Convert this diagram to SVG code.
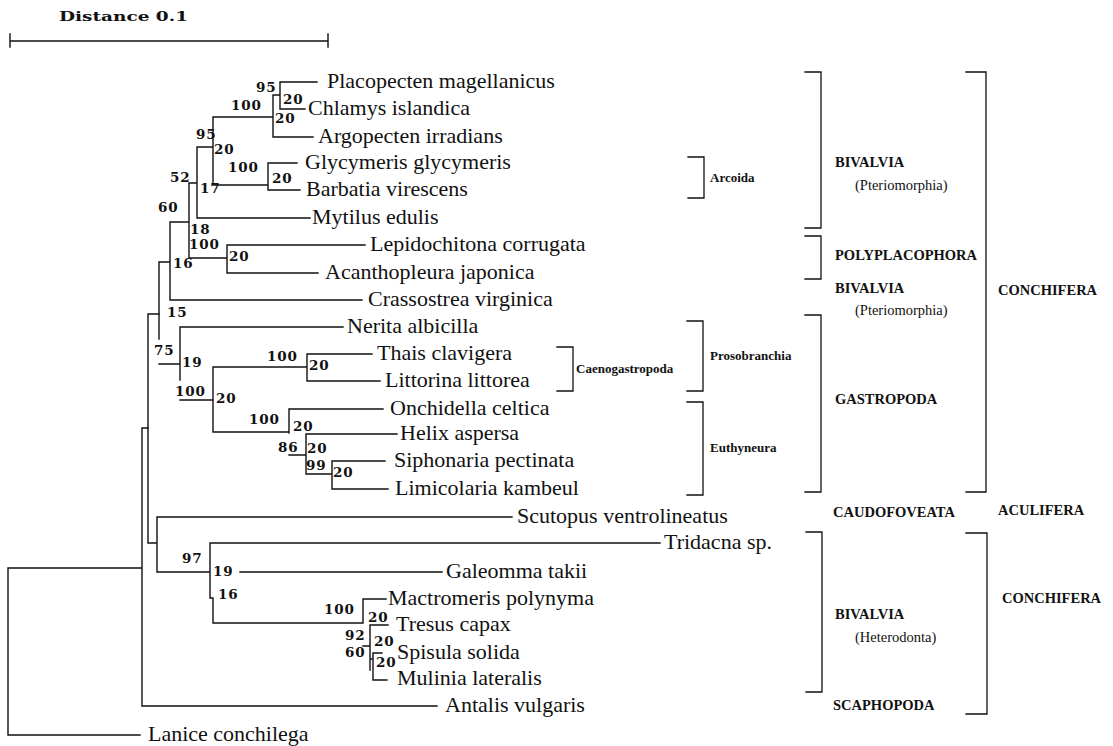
<svg xmlns="http://www.w3.org/2000/svg" width="1113" height="746" viewBox="0 0 1113 746">
<style>
.ln{stroke:#111;stroke-width:1.4;fill:none;stroke-linecap:square}
.br{stroke:#111;stroke-width:1.3;fill:none;stroke-linecap:square}
.sp{font-family:"Liberation Serif","Times New Roman",serif;font-size:22px;fill:#111}
.bs{font-family:"DejaVu Serif",serif;font-weight:bold;font-size:13.5px;letter-spacing:0.8px;fill:#111}
.gp{font-family:"Liberation Serif","Times New Roman",serif;font-weight:bold;font-size:14.5px;fill:#111}
.sub{font-family:"Liberation Serif","Times New Roman",serif;font-size:14.5px;fill:#111}
.cl{font-family:"Liberation Serif","Times New Roman",serif;font-weight:bold;font-size:13px;fill:#111}
</style>
<rect width="1113" height="746" fill="#fff"/>
<g id="scale">
<text x="59" y="21" font-family="DejaVu Serif,serif" font-weight="bold" font-size="13.5" fill="#111" textLength="129" lengthAdjust="spacingAndGlyphs">Distance 0.1</text>
<path class="ln" d="M10 41H328M10 34V47M328 34V47"/>
</g>
<g id="connectors">
<path class="ln" d="M280 82V109M280 82H317M280 109H305M273 95H280M273 95V137M273 137H313M213 117H273M213 117V185M213 185H268M268 163V190M268 163H297M268 190H300M197 147H213M197 147V218M197 218H310M189 183H197M189 183V258M189 258H227M227 245V273M227 245H365M227 273H318M170 222H189M170 222V300M170 300H362M159 262H170M159 262V339"/>
<path class="ln" d="M159 364H180M180 327V380M180 327H343M180 400H213M213 367V432M213 367H307M307 354V381M307 354H372M307 381H380M213 432H289M289 409V433M289 409H383M289 455H306M306 434V474M306 434H397M306 474H332M332 461V489M332 461H385M332 489H388"/>
<path class="ln" d="M148 314H159M148 314V543M148 543H157M157 517V572M157 517H512M157 572H210M210 543V598M210 543H660M240 572H442M210 598H213M213 598V623M213 623H363M363 599V623M363 599H386M363 646H370M370 625V670M370 625H388M370 659H373M373 653V680M373 653H382M373 680H387"/>
<path class="ln" d="M143 428H148M142 428V706M142 706H437M8 568H142M8 568V735M8 735H140"/>
</g>
<g id="leaf-placopecten"><text class="sp" x="327" y="88">Placopecten magellanicus</text></g>
<g id="leaf-chlamys"><text class="sp" x="308" y="115">Chlamys islandica</text></g>
<g id="leaf-argopecten"><text class="sp" x="318" y="143">Argopecten irradians</text></g>
<g id="leaf-glycymeris"><text class="sp" x="305" y="169">Glycymeris glycymeris</text></g>
<g id="leaf-barbatia"><text class="sp" x="306" y="196">Barbatia virescens</text></g>
<g id="leaf-mytilus"><text class="sp" x="312" y="224">Mytilus edulis</text></g>
<g id="leaf-lepidochitona"><text class="sp" x="370" y="251">Lepidochitona corrugata</text></g>
<g id="leaf-acanthopleura"><text class="sp" x="325" y="279">Acanthopleura japonica</text></g>
<g id="leaf-crassostrea"><text class="sp" x="368" y="306">Crassostrea virginica</text></g>
<g id="leaf-nerita"><text class="sp" x="347" y="333">Nerita albicilla</text></g>
<g id="leaf-thais"><text class="sp" x="377" y="360">Thais clavigera</text></g>
<g id="leaf-littorina"><text class="sp" x="385" y="387">Littorina littorea</text></g>
<g id="leaf-onchidella"><text class="sp" x="390" y="415">Onchidella celtica</text></g>
<g id="leaf-helix"><text class="sp" x="400" y="440">Helix aspersa</text></g>
<g id="leaf-siphonaria"><text class="sp" x="394" y="467">Siphonaria pectinata</text></g>
<g id="leaf-limicolaria"><text class="sp" x="395" y="495">Limicolaria kambeul</text></g>
<g id="leaf-scutopus"><text class="sp" x="517" y="523">Scutopus ventrolineatus</text></g>
<g id="leaf-tridacna"><text class="sp" x="664" y="549">Tridacna sp.</text></g>
<g id="leaf-galeomma"><text class="sp" x="446" y="578">Galeomma takii</text></g>
<g id="leaf-mactromeris"><text class="sp" x="388" y="605">Mactromeris polynyma</text></g>
<g id="leaf-tresus"><text class="sp" x="396" y="631">Tresus capax</text></g>
<g id="leaf-spisula"><text class="sp" x="397" y="659">Spisula solida</text></g>
<g id="leaf-mulinia"><text class="sp" x="397" y="685">Mulinia lateralis</text></g>
<g id="leaf-antalis"><text class="sp" x="445" y="712">Antalis vulgaris</text></g>
<g id="leaf-lanice"><text class="sp" x="148" y="741">Lanice conchilega</text></g>
<g id="support-values">
<text class="bs" x="256" y="92">95</text>
<text class="bs" x="283" y="104">20</text>
<text class="bs" x="231" y="110">100</text>
<text class="bs" x="275" y="123">20</text>
<text class="bs" x="196" y="139">95</text>
<text class="bs" x="214" y="154">20</text>
<text class="bs" x="228" y="172">100</text>
<text class="bs" x="272" y="183">20</text>
<text class="bs" x="170" y="182">52</text>
<text class="bs" x="200" y="193">17</text>
<text class="bs" x="158" y="212">60</text>
<text class="bs" x="190" y="234">18</text>
<text class="bs" x="189" y="249">100</text>
<text class="bs" x="229" y="261">20</text>
<text class="bs" x="173" y="268">16</text>
<text class="bs" x="167" y="317">15</text>
<text class="bs" x="154" y="355">75</text>
<text class="bs" x="182" y="367">19</text>
<text class="bs" x="175" y="396">100</text>
<text class="bs" x="216" y="403">20</text>
<text class="bs" x="267" y="361">100</text>
<text class="bs" x="309" y="370">20</text>
<text class="bs" x="249" y="424">100</text>
<text class="bs" x="293" y="431">20</text>
<text class="bs" x="278" y="452">86</text>
<text class="bs" x="307" y="453">20</text>
<text class="bs" x="306" y="470">99</text>
<text class="bs" x="333" y="477">20</text>
<text class="bs" x="182" y="563">97</text>
<text class="bs" x="213" y="576">19</text>
<text class="bs" x="218" y="599">16</text>
<text class="bs" x="324" y="614">100</text>
<text class="bs" x="368" y="622">20</text>
<text class="bs" x="345" y="640">92</text>
<text class="bs" x="374" y="646">20</text>
<text class="bs" x="345" y="657">60</text>
<text class="bs" x="376" y="667">20</text>
</g>
<g id="bracket-arcoida"><path class="br" d="M688 157H704V198H688"/><text class="cl" x="710" y="182">Arcoida</text></g>
<g id="bracket-caenogastropoda"><path class="br" d="M557 347H573V391H557"/><text class="cl" x="576" y="373">Caenogastropoda</text></g>
<g id="bracket-prosobranchia"><path class="br" d="M687 321H703V391H687"/><text class="cl" x="710" y="360">Prosobranchia</text></g>
<g id="bracket-euthyneura"><path class="br" d="M687 402H703V495H687"/><text class="cl" x="710" y="452">Euthyneura</text></g>
<g id="bracket-bivalvia-pterio"><path class="br" d="M805 72H821V228H805"/><text class="gp" x="835" y="167">BIVALVIA</text><text class="sub" x="855" y="190">(Pteriomorphia)</text></g>
<g id="bracket-polyplacophora"><path class="br" d="M805 236H821V279H805"/><text class="gp" x="835" y="260">POLYPLACOPHORA</text></g>
<g id="label-bivalvia-2"><text class="gp" x="835" y="293">BIVALVIA</text><text class="sub" x="855" y="315">(Pteriomorphia)</text></g>
<g id="bracket-gastropoda"><path class="br" d="M805 315H821V492H805"/><text class="gp" x="835" y="404">GASTROPODA</text></g>
<g id="label-caudofoveata"><text class="gp" x="833" y="517">CAUDOFOVEATA</text></g>
<g id="bracket-bivalvia-hetero"><path class="br" d="M806 532H822V692H806"/><text class="gp" x="835" y="619">BIVALVIA</text><text class="sub" x="855" y="642">(Heterodonta)</text></g>
<g id="label-scaphopoda"><text class="gp" x="833" y="710">SCAPHOPODA</text></g>
<g id="bracket-conchifera-1"><path class="br" d="M966 72H986V492H966"/><text class="gp" x="998" y="295">CONCHIFERA</text></g>
<g id="label-aculifera"><text class="gp" x="998" y="515">ACULIFERA</text></g>
<g id="bracket-conchifera-2"><path class="br" d="M966 533H987V714H966"/><text class="gp" x="1002" y="603">CONCHIFERA</text></g>
</svg>
